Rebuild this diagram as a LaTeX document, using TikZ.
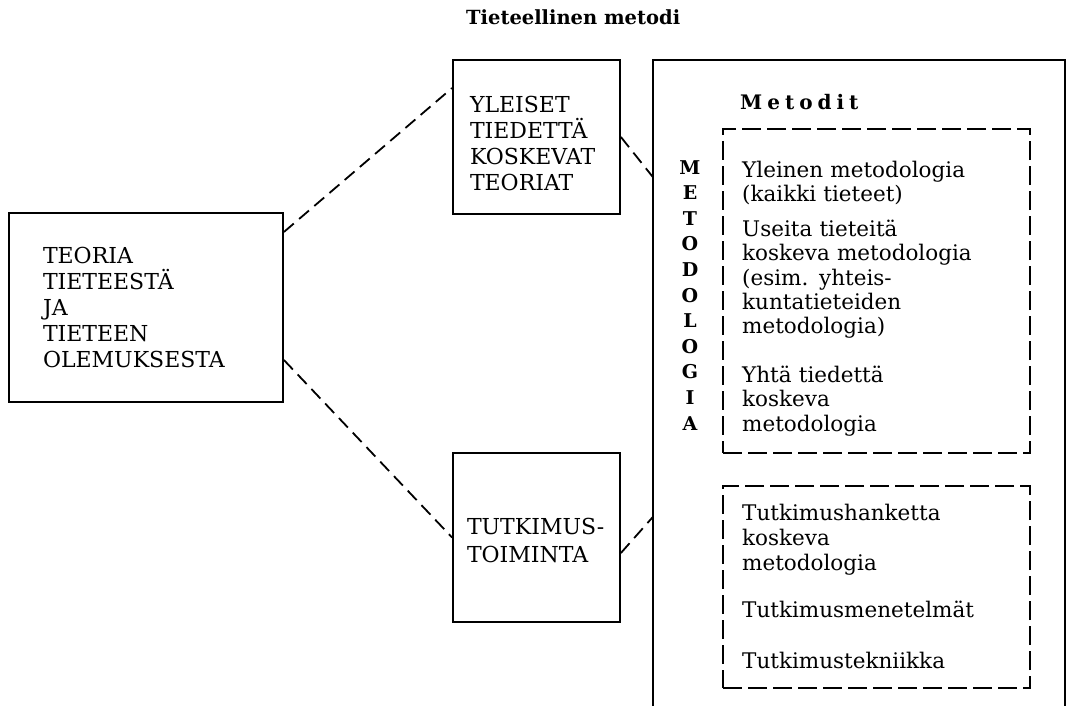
\documentclass[tikz,border=0pt]{standalone}
\usepackage{fontspec}
\setmainfont{DejaVu Serif}
\usetikzlibrary{calc}

\newcommand\lsp{\kern5pt}

\tikzset{
  box/.style={draw, line width=1.8pt, align=left, inner ysep=0pt,
    font=\fontsize{22}{26}\selectfont},
  dbox/.style={draw, line width=2pt, dash pattern=on 19pt off 6pt},
  link/.style={line width=1.8pt, dash pattern=on 13pt off 7pt},
  txt/.style={anchor=base west, inner sep=0pt, align=left, text width=280pt,
    font=\fontsize{21.5}{24.5}\selectfont}
}

\begin{document}
\begin{tikzpicture}[x=1pt,y=-1pt]
\useasboundingbox (0,0) rectangle (1068,706);

\node[anchor=base west, inner sep=0pt, font=\bfseries\fontsize{19.5}{22}\selectfont] (title) at (466,25) {Tieteellinen metodi};

% left and middle boxes
\node[box, minimum height=189, inner xsep=34pt, text width=206pt] (teoria) at (146,307.5)
  {TEORIA\\TIETEESTÄ\\JA\\TIETEEN\\OLEMUKSESTA};
\node[box, minimum height=154, inner xsep=17pt, text width=133pt, text height=30pt] (yleiset) at (536.5,137)
  {YLEISET\\TIEDETTÄ\\KOSKEVAT\\TEORIAT};
\node[box, minimum height=169, inner xsep=14pt, text width=139pt, text height=23pt,
  font=\fontsize{22}{28}\selectfont] (tutkimus) at (536.5,537.5)
  {TUTKIMUS-\\TOIMINTA};

% big box, open at the bottom
\node[minimum width=412, minimum height=646, inner sep=0pt] (metodi) at (859,383) {};
\draw[line width=1.8pt] (metodi.south west) -- (metodi.north west) -- (metodi.north east) -- (metodi.south east);

\node[anchor=base west, inner sep=0pt, font=\bfseries\fontsize{20}{24}\selectfont] (metodit) at (740,110)
  {M\lsp e\lsp t\lsp o\lsp d\lsp i\lsp t};
\node[anchor=base, inner sep=0pt, align=center, text width=24pt,
  font=\bfseries\fontsize{19}{25.6}\selectfont] (metodologia) at (690,174)
  {M\\E\\T\\O\\D\\O\\L\\O\\G\\I\\A};

% dashed boxes
\node[dbox, minimum width=307, minimum height=324] (yleinen) at (876.5,291) {};
\node[dbox, minimum width=307, minimum height=202] (hanke) at (876.5,587) {};

\node[txt] (yltxt) at (742,177)
  {Yleinen metodologia\\(kaikki tieteet)\\[10pt]
   Useita tieteitä\\koskeva metodologia\\(esim. yhteis-\\kuntatieteiden\\metodologia)\\[23.5pt]
   Yhtä tiedettä\\koskeva\\metodologia};
\node[txt, font=\fontsize{21.5}{25}\selectfont] (hanketxt) at (742,520)
  {Tutkimushanketta\\koskeva\\metodologia\\[22pt]
   Tutkimusmenetelmät\\[26pt]
   Tutkimustekniikka};

% connectors
\draw[link] ([yshift=75.5pt]teoria.east) -- ([yshift=49pt]yleiset.west);
\draw[link] ([yshift=-52.5pt]teoria.east) -- (tutkimus.west);
\draw[link] (yleiset.east) -- ([yshift=206pt]metodi.west);
\draw[link] ([yshift=-15.5pt]tutkimus.east) -- ([yshift=-134pt]metodi.west);
\end{tikzpicture}
\end{document}
